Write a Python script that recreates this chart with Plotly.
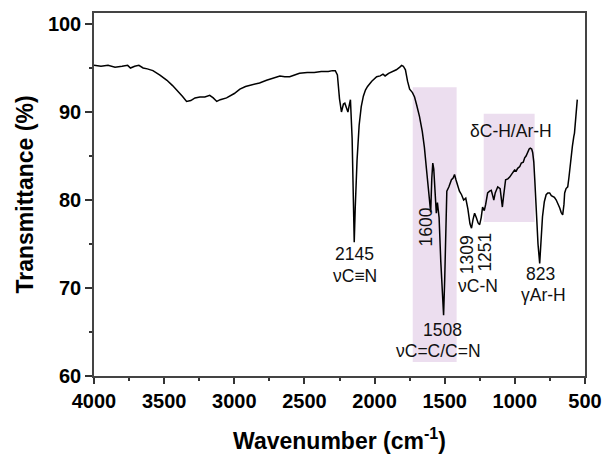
import plotly.graph_objects as go

wavenumber = [4000, 3950, 3900, 3850, 3800, 3760, 3740, 3710, 3680, 3650, 3620, 3580, 3530, 3480,
              3440, 3410, 3370, 3340, 3310, 3280, 3245, 3210, 3175, 3150, 3125, 3100, 3055, 3000,
              2960, 2920, 2865, 2820, 2770, 2720, 2675, 2640, 2605, 2570, 2535, 2480, 2430, 2380,
              2330, 2300, 2280, 2265, 2250, 2236, 2222, 2212, 2200, 2190, 2180, 2172, 2160, 2152,
              2145, 2138, 2125, 2110, 2095, 2080, 2065, 2050, 2020, 1985, 1960, 1940, 1925, 1900,
              1870, 1845, 1820, 1807, 1795, 1780, 1765, 1750, 1730, 1715, 1700, 1680, 1660, 1645,
              1630, 1620, 1610, 1600, 1592, 1585, 1578, 1570, 1560, 1552, 1540, 1528, 1515, 1508,
              1500, 1492, 1485, 1470, 1452, 1440, 1430, 1420, 1407, 1395, 1380, 1365, 1350, 1335,
              1320, 1309, 1298, 1287, 1275, 1262, 1251, 1240, 1230, 1218, 1208, 1194, 1180, 1168,
              1158, 1150, 1140, 1122, 1105, 1095, 1089, 1080, 1066, 1050, 1037, 1020, 1002, 990,
              980, 965, 954, 940, 930, 920, 909, 898, 890, 880, 873, 865, 858, 847, 835, 823, 812,
              803, 790, 777, 765, 752, 740, 730, 718, 705, 690, 680, 670, 659, 650, 645, 635, 623,
              615, 610, 600, 590, 580, 575, 565, 555]
transmittance = [95.3, 95.2, 95.3, 95.1, 95.2, 95.3, 95.0, 95.2, 95.3, 95.0, 94.9, 94.7, 94.2, 93.6,
                 93.0, 92.5, 91.8, 91.2, 91.3, 91.6, 91.7, 91.7, 91.9, 91.6, 91.2, 91.4, 91.6, 92.1,
                 92.6, 92.9, 93.1, 93.3, 93.6, 93.9, 94.1, 94.0, 94.0, 94.2, 94.4, 94.5, 94.5, 94.6,
                 94.6, 94.7, 94.7, 94.2, 91.5, 90.0, 90.9, 91.0, 90.3, 90.0, 90.8, 91.4, 87.0, 80.0,
                 75.2, 79.0, 84.5, 88.5, 90.6, 91.8, 92.5, 92.9, 93.5, 94.0, 94.1, 94.3, 94.1, 94.4,
                 94.6, 94.8, 95.1, 95.3, 95.2, 94.8, 93.5, 92.6, 92.2, 91.7, 90.8, 89.5, 87.8, 86.0,
                 83.5, 82.0, 80.0, 78.6, 82.5, 84.2, 83.5, 80.5, 78.5, 79.7, 78.0, 73.0, 68.5, 66.9,
                 71.0, 77.5, 81.0, 81.5, 82.3, 82.5, 82.9, 82.3, 81.5, 81.0, 80.6, 80.0, 80.2, 79.0,
                 77.3, 76.8, 77.8, 78.5, 78.0, 77.4, 77.2, 78.0, 79.2, 78.8, 79.5, 80.8, 81.0, 81.1,
                 80.5, 80.0, 80.8, 81.5, 81.3, 80.2, 79.2, 80.5, 82.3, 82.4, 82.6, 83.0, 83.4, 83.3,
                 83.6, 83.8, 84.2, 84.3, 84.8, 85.0, 85.5, 85.8, 85.9, 85.8, 85.4, 84.3, 82.3, 78.5,
                 75.0, 72.8, 75.5, 78.1, 79.8, 80.6, 80.8, 80.8, 80.5, 80.4, 80.3, 80.0, 79.5, 79.1,
                 78.6, 78.3, 79.5, 80.8, 81.3, 81.5, 82.5, 83.4, 85.0, 86.1, 87.2, 87.6, 89.5, 91.4]

x_ticks = [4000, 3500, 3000, 2500, 2000, 1500, 1000, 500]
y_ticks = [60, 70, 80, 90, 100]

# shaded band regions: (x0, x1, y0, y1)
bands = [(1728, 1415, 61.6, 92.8), (1222, 859, 77.5, 89.8)]
band_color = "rgb(236,222,239)"

# annotations: (x, y, text, angle)
labels = [
    (2141, 73.9, "2145", 0),
    (2141, 71.4, "νC≡N", 0),
    (1632, 76.9, "1600", -90),
    (1340, 73.75, "1309", -90),
    (1215, 74.1, "1251", -90),
    (1261, 70.2, "νC-N", 0),
    (1518, 65.2, "1508", 0),
    (1546, 62.8, "νC=C/C=N", 0),
    (816, 71.6, "823", 0),
    (795, 69.2, "γAr-H", 0),
    (1030, 87.8, "δC-H/Ar-H", 0),
]

fig = go.Figure()

for x0, x1, y0, y1 in bands:
    fig.add_shape(type="rect", x0=x0, x1=x1, y0=y0, y1=y1, xref="x", yref="y",
                  fillcolor=band_color, line_width=0, layer="below")

fig.add_trace(go.Scatter(x=wavenumber, y=transmittance, mode="lines",
                         line=dict(color="black", width=1.5), showlegend=False))

for x, y, t, a in labels:
    fig.add_annotation(x=x, y=y, text=t, textangle=a, showarrow=False,
                       font=dict(family="Liberation Sans, Arial", size=17.5, color="#111"))

axis_font = dict(family="Liberation Sans, Arial", size=20, color="black")
title_font = dict(family="Liberation Sans, Arial", size=23, color="black")
fig.update_layout(
    width=604, height=454,
    margin=dict(l=94, r=19, t=13, b=78),
    plot_bgcolor="white", paper_bgcolor="white",
    xaxis=dict(range=[4000, 500], tickvals=x_ticks, ticktext=[f"<b>{v}</b>" for v in x_ticks],
               ticks="outside", ticklen=6, tickwidth=1.5, tickcolor="#333",
               minor=dict(dtick=250, ticks="outside", ticklen=3, tickcolor="#333"),
               showline=True, linecolor="#444", linewidth=1.5, mirror=True,
               showgrid=False, zeroline=False, tickfont=axis_font, automargin=False,
               title=dict(text="<b>Wavenumber (cm<sup>-1</sup>)</b>", standoff=22, font=title_font)),
    yaxis=dict(range=[60, 101.25], tickvals=y_ticks, ticktext=[f"<b>{v}</b>" for v in y_ticks],
               ticks="outside", ticklen=7, tickwidth=1.5, tickcolor="#333",
               minor=dict(dtick=5, ticks="outside", ticklen=3, tickcolor="#333"),
               showline=True, linecolor="#444", linewidth=1.5, mirror=True,
               showgrid=False, zeroline=False, tickfont=axis_font, automargin=False,
               title=dict(text="<b>Transmittance (%)</b>", standoff=8, font=title_font)),
)

fig.write_html("out.html")
